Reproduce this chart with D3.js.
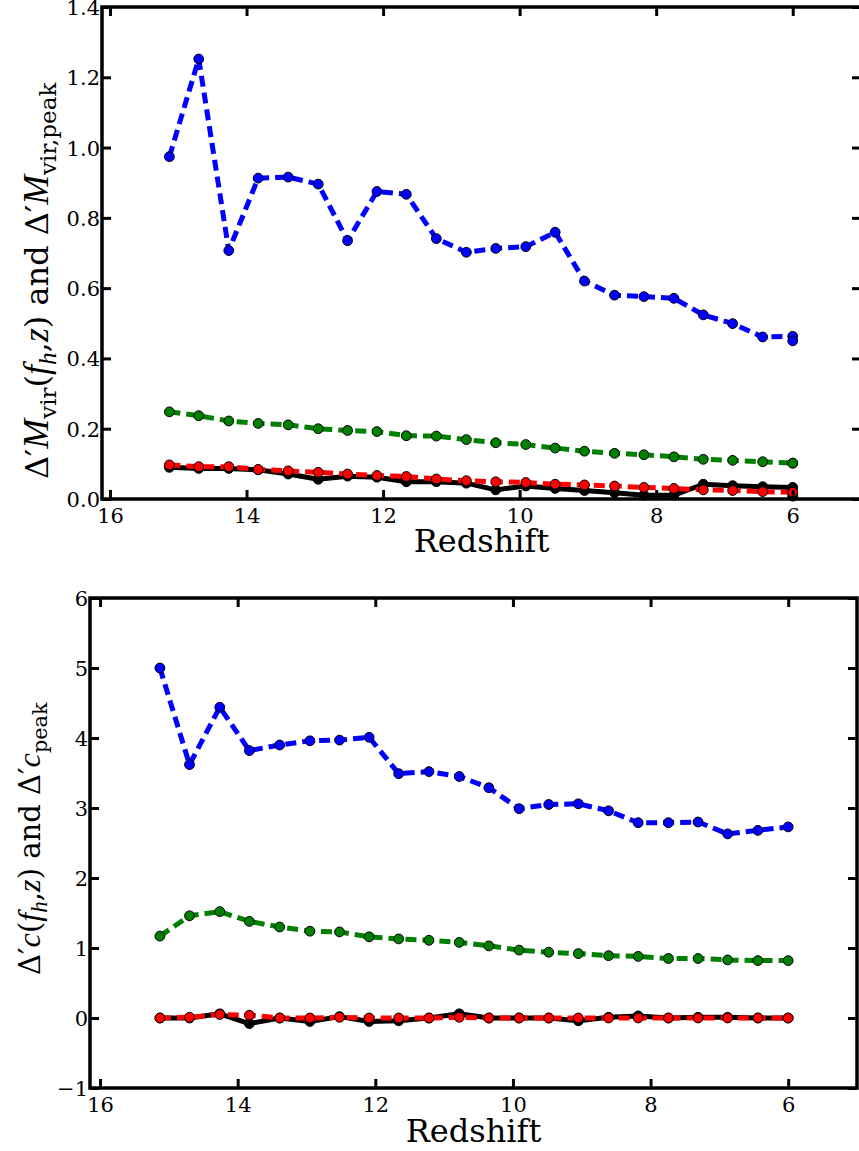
<!DOCTYPE html>
<html>
<head>
<meta charset="utf-8">
<script src="https://cdn.jsdelivr.net/npm/d3@7"></script>
<style>
  body { margin: 0; background: #fff; }
  text { font-family: "DejaVu Serif", serif; fill: #000; }
</style>
</head>
<body>
<svg id="fig" width="859" height="1151"></svg>
<script>
// Snapshot redshifts shared by both panels
const redshift = [15.13, 14.70, 14.26, 13.83, 13.39, 12.95, 12.52, 12.09, 11.66, 11.22, 10.78,
                  10.35, 9.91, 9.48, 9.05, 8.61, 8.18, 7.74, 7.31, 6.88, 6.44, 6.00];
// The mass panel carries a repeated final snapshot at z = 6
const redshiftMvir = redshift.concat([6.00]);

// Delta' M_vir series
const mvirBlue  = [0.974, 1.252, 0.707, 0.913, 0.916, 0.896, 0.735, 0.875, 0.867, 0.741, 0.702,
                   0.713, 0.718, 0.759, 0.620, 0.580, 0.576, 0.571, 0.524, 0.499, 0.461, 0.463, 0.450];
const mvirGreen = [0.248, 0.237, 0.222, 0.215, 0.211, 0.200, 0.195, 0.192, 0.180, 0.179, 0.169,
                   0.160, 0.155, 0.145, 0.136, 0.130, 0.126, 0.120, 0.113, 0.110, 0.106, 0.102, 0.102];
const mvirBlack = [0.090, 0.087, 0.087, 0.083, 0.071, 0.056, 0.065, 0.062, 0.049, 0.049, 0.045,
                   0.026, 0.037, 0.030, 0.024, 0.018, 0.011, 0.011, 0.042, 0.038, 0.035, 0.033, 0.008];
const mvirRed   = [0.097, 0.092, 0.092, 0.084, 0.080, 0.076, 0.071, 0.067, 0.064, 0.057, 0.052,
                   0.049, 0.047, 0.042, 0.040, 0.037, 0.033, 0.030, 0.026, 0.024, 0.021, 0.019, 0.019];

// Delta' c series
const concBlue  = [5.00, 3.62, 4.44, 3.82, 3.90, 3.96, 3.97, 4.01, 3.49, 3.52, 3.45,
                   3.29, 2.99, 3.05, 3.06, 2.96, 2.79, 2.79, 2.80, 2.63, 2.68, 2.73];
const concGreen = [1.17, 1.46, 1.52, 1.38, 1.30, 1.24, 1.23, 1.16, 1.13, 1.11, 1.08,
                   1.03, 0.97, 0.94, 0.92, 0.89, 0.88, 0.85, 0.85, 0.83, 0.82, 0.82];
const concBlack = [0.00, 0.00, 0.06, -0.08, 0.00, -0.05, 0.02, -0.05, -0.04, 0.00, 0.06,
                   0.00, 0.00, 0.00, -0.04, 0.01, 0.03, 0.00, 0.01, 0.01, 0.00, 0.00];
const concRed   = [0.00, 0.01, 0.05, 0.04, 0.00, 0.00, 0.01, 0.00, 0.00, 0.00, 0.01,
                   0.00, 0.00, 0.00, 0.00, 0.00, 0.00, 0.00, 0.00, 0.00, 0.00, 0.00];

// Tick labels
const xTicks = [16, 14, 12, 10, 8, 6];
const mvirTicks = [0.0, 0.2, 0.4, 0.6, 0.8, 1.0, 1.2, 1.4];
const concTicks = [-1, 0, 1, 2, 3, 4, 5, 6];

const svg = d3.select("#fig");

function drawPanel(cfg) {
  const g = svg.append("g");
  const x = d3.scaleLinear().domain(cfg.xDomain).range([cfg.left, cfg.right]);
  const y = d3.scaleLinear().domain(cfg.yDomain).range([cfg.bottom, cfg.top]);

  // series: line first, then its markers
  cfg.series.forEach(s => {
    const pts = s.values.map((v, i) => [cfg.xs[i], v]);
    g.append("path")
      .datum(pts)
      .attr("fill", "none")
      .attr("stroke", s.color)
      .attr("stroke-width", 5)
      .attr("stroke-dasharray", s.dashed ? "11,6" : null)
      .attr("stroke-linejoin", "round")
      .attr("d", d3.line().x(d => x(d[0])).y(d => y(d[1])));
    g.selectAll(null).data(pts).enter().append("circle")
      .attr("cx", d => x(d[0])).attr("cy", d => y(d[1]))
      .attr("r", 4.9)
      .attr("fill", s.color)
      .attr("stroke", "#000").attr("stroke-width", 1);
  });

  const tickLen = 9;
  // bottom axis with inward ticks and labels
  const xb = g.append("g").attr("transform", `translate(0,${cfg.bottom})`)
    .call(d3.axisBottom(x).tickValues(xTicks).tickSize(-tickLen).tickPadding(0).tickFormat(d3.format("d")));
  // top axis
  const xt = g.append("g").attr("transform", `translate(0,${cfg.top})`)
    .call(d3.axisTop(x).tickValues(xTicks).tickSize(-tickLen).tickFormat(""));
  // left axis
  const yl = g.append("g").attr("transform", `translate(${cfg.left},0)`)
    .call(d3.axisLeft(y).tickValues(cfg.yTicks).tickSize(-tickLen).tickFormat(cfg.yFormat));
  // right axis
  const yr = g.append("g").attr("transform", `translate(${cfg.right},0)`)
    .call(d3.axisRight(y).tickValues(cfg.yTicks).tickSize(-tickLen).tickFormat(""));

  [xb, xt, yl, yr].forEach(a => {
    a.select(".domain").remove();
    a.selectAll(".tick line").attr("stroke", "#000").attr("stroke-width", 3);
  });
  xb.selectAll(".tick text")
    .attr("y", 24).attr("dy", null)
    .style("font-family", "DejaVu Serif").style("font-size", "21px").attr("fill", "#000");
  yl.selectAll(".tick text")
    .attr("x", -2).attr("dy", "0.36em")
    .style("font-family", "DejaVu Serif").style("font-size", "21px").attr("fill", "#000");

  // frame
  g.append("rect")
    .attr("x", cfg.left).attr("y", cfg.top)
    .attr("width", cfg.right - cfg.left).attr("height", cfg.bottom - cfg.top)
    .attr("fill", "none").attr("stroke", "#000").attr("stroke-width", 3.5);

  // x label
  g.append("text")
    .attr("x", (cfg.left + cfg.right) / 2).attr("y", cfg.xLabelY)
    .attr("text-anchor", "middle")
    .style("font-size", "32px")
    .text("Redshift");

  // y label (rotated, with math-style italics and subscripts), anchored at its start
  const lab = g.append("text")
    .attr("transform", `translate(${cfg.yLabelX},${cfg.yLabelY}) rotate(-90)`)
    .attr("text-anchor", "start")
    .style("font-size", cfg.yLabelSize + "px");
  const fs = cfg.yLabelSize;
  let shift = 0;
  cfg.yLabelParts.forEach(p => {
    const t = lab.append("tspan").text(p.t);
    const target = p.sub ? fs * 0.24 : 0;
    if (target !== shift) { t.attr("dy", target - shift); shift = target; }
    if (p.it) t.style("font-family", "Liberation Serif").style("font-style", "italic").style("font-size", (p.sub ? fs * 0.72 * 1.1 : fs * 1.12) + "px");
    else if (p.sub) t.style("font-size", (fs * 0.72) + "px");
  });
}

drawPanel({
  left: 102, right: 861, top: 7, bottom: 499,
  xDomain: [16.117, 5.0], yDomain: [0, 1.4],
  xs: redshiftMvir,
  yTicks: mvirTicks, yFormat: d3.format(".1f"),
  xLabelY: 552,
  yLabelX: 48, yLabelY: 479, yLabelSize: 32,
  yLabelParts: [
    {t: "Δ′"}, {t: "M", it: true}, {t: "vir", sub: true}, {t: "("}, {t: "f", it: true},
    {t: "h", it: true, sub: true}, {t: ","}, {t: "z", it: true}, {t: ")"}, {t: " and "},
    {t: "Δ′"}, {t: "M", it: true}, {t: "vir,peak", sub: true}
  ],
  series: [
    {values: mvirBlack, color: "#000000", dashed: false},
    {values: mvirBlue,  color: "#0000ff", dashed: true},
    {values: mvirGreen, color: "#008000", dashed: true},
    {values: mvirRed,   color: "#ff0000", dashed: true}
  ]
});

drawPanel({
  left: 90, right: 857, top: 598, bottom: 1088,
  xDomain: [16.146, 5.0], yDomain: [-1, 6],
  xs: redshift,
  yTicks: concTicks, yFormat: d => (d < 0 ? "\u2212" + Math.abs(d) : String(d)),
  xLabelY: 1142,
  yLabelX: 40, yLabelY: 975, yLabelSize: 29,
  yLabelParts: [
    {t: "Δ′"}, {t: "c", it: true}, {t: "("}, {t: "f", it: true},
    {t: "h", it: true, sub: true}, {t: ","}, {t: "z", it: true}, {t: ")"}, {t: " and "},
    {t: "Δ′"}, {t: "c", it: true}, {t: "peak", sub: true}
  ],
  series: [
    {values: concBlack, color: "#000000", dashed: false},
    {values: concBlue,  color: "#0000ff", dashed: true},
    {values: concGreen, color: "#008000", dashed: true},
    {values: concRed,   color: "#ff0000", dashed: true}
  ]
});
</script>
</body>
</html>
